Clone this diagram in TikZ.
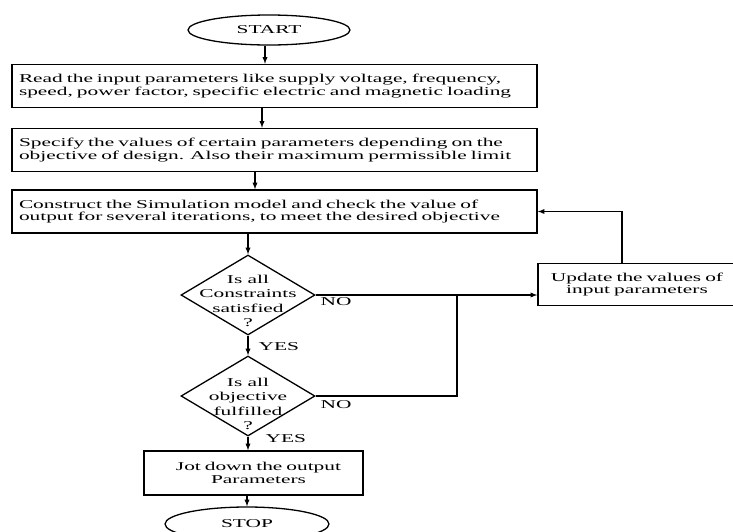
\documentclass[tikz,border=0pt]{standalone}
\usepackage{fontspec}
\setmainfont{Liberation Serif}[FakeStretch=1.78]
\usepackage{tikz}
\usetikzlibrary{shapes.geometric}
\tikzset{
block/.style={
  rectangle, draw, line width=1.4pt,
  minimum width=525pt, minimum height=43pt,
  text width=511pt, align=left, inner sep=0pt
},
term/.style={ellipse, draw, line width=1.3pt,
  minimum width=162pt, minimum height=30pt, inner sep=0pt},
decision/.style={diamond, draw, line width=1.3pt,
  minimum width=134pt, minimum height=80pt, inner sep=0pt},
dtext/.style={align=center, inner sep=0pt,
  font=\fontsize{12}{14.5}\selectfont},
lbl/.style={anchor=west, inner sep=0pt},
}

\begin{document}
\begin{tikzpicture}[x=1pt,y=-1pt,>=latex,line width=1.3pt,
  font=\fontsize{12}{12.7}\selectfont]
\useasboundingbox (0,0) rectangle (733,531);
\clip (0,0) rectangle (733,531);
% the main column
\node[term] (start) at (269,30) {START};
\node[block] (read) at (274.5,86)
  {Read the input parameters like supply voltage, frequency,\\
   speed, power factor, specific electric and magnetic loading};
\node[block] (spec) at (274.5,150)
  {Specify the values of certain parameters depending on the\\
   objective of design. Also their maximum permissible limit};
\node[block] (sim) at (274.5,211.5)
  {Construct the Simulation model and check the value of\\
   output for several iterations, to meet the desired objective};
\node[decision] (cons) at (248,295) {};
\node[dtext] (cons text) at (248,301) {Is all\\Constraints\\satisfied\\?};
\node[decision] (obj) at (248,396) {};
\node[dtext] (obj text) at (248,404) {Is all\\objective\\fulfilled\\?};
\node[block, minimum width=219pt, minimum height=44pt, text width=200pt,
  align=center] (jot) at (253.5,473) {\hspace*{10pt}Jot down the output\\\hspace*{10pt}Parameters};
\node[term, minimum width=164pt, minimum height=34pt] (stop) at (247,524) {STOP};
% the side box
\node[block, minimum width=198pt, minimum height=42pt, text width=190pt,
  align=center] (upd) at (637,284.5) {Update the values of\\input parameters};
\coordinate (join) at (457,295);
% the labels
\node[lbl] (yes1) at (258,347) {YES};
\node[lbl] (yes2) at (265,439) {YES};
\node[lbl] (no1) at (320,302) {NO};
\node[lbl] (no2) at (320,405) {NO};
% the arrows
\draw[->] ([xshift=-4pt]start.south) -- ([xshift=-4pt]start.south |- read.north);
\draw[->] ([xshift=-12.5pt]read.south) -- ([xshift=-12.5pt]spec.north);
\draw[->] ([xshift=-19.5pt]spec.south) -- ([xshift=-19.5pt]sim.north);
\draw[->] (sim.south -| cons.north) -- (cons.north);
\draw[->] (cons.south) -- (obj.north);
\draw[->] (obj.south) -- (obj.south |- jot.north);
\draw[->] (stop.north |- jot.south) -- (stop.north);
\draw[->] (cons.east) -- (cons.east -| upd.west);
\draw (obj.east) -| (join);
\draw[->] ([xshift=-15pt]upd.north) |- (sim.east);
\end{tikzpicture}
\end{document}
